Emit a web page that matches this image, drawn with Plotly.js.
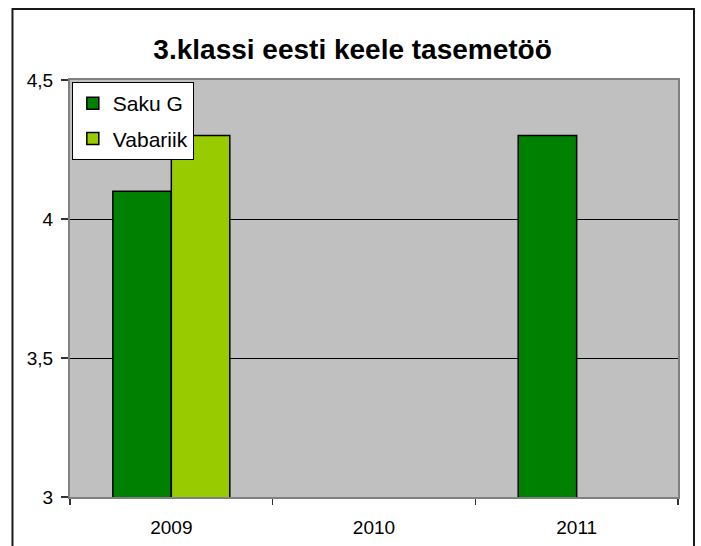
<!DOCTYPE html>
<html>
<head>
<meta charset="utf-8">
<script src="https://cdn.plot.ly/plotly-3.0.1.min.js"></script>
<style>
  html, body { margin: 0; padding: 0; background: #ffffff; }
  #chart { width: 701px; height: 546px; }
</style>
</head>
<body>
<div id="chart"></div>
<script>
const chartTitle = '3.klassi eesti keele tasemetöö';
const years = ['2009', '2010', '2011'];
const seriesNames = ['Saku G', 'Vabariik'];
const sakuG = [4.1, null, 4.3];
const vabariik = [4.3, null, null];
const yTickVals = [3, 3.5, 4, 4.5];
const yTickText = ['3', '3,5', '4', '4,5'];

const FONT = 'Liberation Sans, Arial, sans-serif';

const traces = [
  {
    type: 'bar', name: seriesNames[0], x: years, y: sakuG,
    legendgroup: 'a',
    marker: { color: '#008000', line: { color: '#000000', width: 1.5 } }
  },
  {
    type: 'bar', name: seriesNames[1], x: years, y: vabariik,
    legendgroup: 'b',
    marker: { color: '#99CC00', line: { color: '#000000', width: 1.5 } }
  }
];

const layout = {
  width: 701, height: 546,
  margin: { l: 70, r: 23, t: 80, b: 49 },
  paper_bgcolor: '#ffffff',
  plot_bgcolor: '#C0C0C0',
  font: { family: FONT, color: '#000000' },
  title: {
    text: '<b>' + chartTitle + '</b>',
    font: { family: FONT, size: 28, color: '#000000' },
    xref: 'container', x: 0.503, xanchor: 'center',
    yref: 'container', y: 0.91, yanchor: 'middle'
  },
  barmode: 'group',
  bargap: 0.423,
  bargroupgap: 0,
  showlegend: true,
  legend: {
    x: 0.003, y: 0.995, xanchor: 'left', yanchor: 'top',
    bgcolor: '#ffffff', bordercolor: '#000000', borderwidth: 1,
    font: { family: FONT, size: 21, color: '#000000' },
    traceorder: 'grouped', tracegroupgap: 5, itemwidth: 30
  },
  xaxis: {
    type: 'category',
    tickson: 'boundaries',
    ticks: 'outside', ticklen: 6, tickcolor: '#333333', tickwidth: 1.5,
    showline: true, linecolor: '#808080', linewidth: 2, mirror: true,
    showgrid: false,
    tickfont: { family: FONT, size: 19, color: '#000000' },
    ticklabelstandoff: 12,
    fixedrange: true
  },
  yaxis: {
    range: [3, 4.5],
    tickvals: yTickVals, ticktext: yTickText,
    ticks: 'outside', ticklen: 7, tickcolor: '#333333', tickwidth: 1.5,
    showline: true, linecolor: '#808080', linewidth: 2, mirror: true,
    showgrid: true, gridcolor: '#000000', gridwidth: 1,
    zeroline: false,
    tickfont: { family: FONT, size: 19, color: '#000000' },
    ticklabelstandoff: 4,
    fixedrange: true
  },
  shapes: [
    {
      type: 'rect', xref: 'paper', yref: 'paper',
      x0: -0.0946, x1: 1.0263, y0: -0.16, y1: 1.1703,
      line: { color: '#1a1a1a', width: 2 }, fillcolor: 'rgba(0,0,0,0)',
      layer: 'above'
    }
  ]
};

Plotly.newPlot('chart', traces, layout, { displayModeBar: false, staticPlot: true });
</script>
</body>
</html>
